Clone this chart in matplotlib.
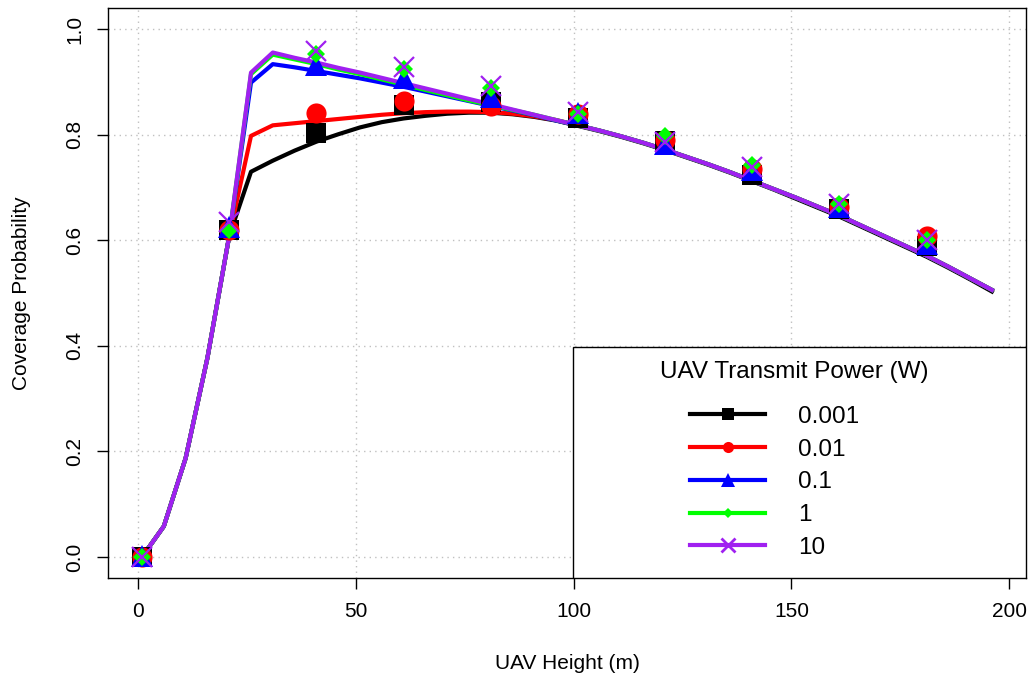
import matplotlib
matplotlib.use("Agg")
import matplotlib.pyplot as plt
from matplotlib.lines import Line2D
from matplotlib.patches import Rectangle

plt.rcParams['font.family'] = ['Liberation Sans', 'DejaVu Sans']

# analytical curves, sampled every 5 m from 1 m to 196 m
height = list(range(1, 197, 5))

rise = [0.0, 0.058, 0.187, 0.377, 0.608]
tail = [0.818, 0.808, 0.797, 0.785, 0.772, 0.758, 0.744, 0.729, 0.713, 0.697,
        0.681, 0.664, 0.647, 0.628, 0.609, 0.590, 0.571, 0.550, 0.528, 0.506]

cov_0001 = rise + [0.730, 0.751, 0.770, 0.787, 0.801, 0.814, 0.824, 0.831, 0.836,
                   0.840, 0.842, 0.842, 0.839, 0.834, 0.827] + \
    [0.817, 0.807, 0.796, 0.784, 0.771, 0.757, 0.743, 0.728, 0.712, 0.696,
     0.679, 0.662, 0.645, 0.626, 0.607, 0.588, 0.569, 0.548, 0.526, 0.503]
cov_001 = rise + [0.798, 0.818, 0.822, 0.826, 0.830, 0.834, 0.838, 0.841, 0.843,
                  0.844, 0.844, 0.843, 0.840, 0.835, 0.828] + tail
cov_01 = rise + [0.899, 0.934, 0.928, 0.921, 0.914, 0.907, 0.899, 0.891, 0.882,
                 0.873, 0.864, 0.855, 0.846, 0.837, 0.827] + tail
cov_1 = rise + [0.915, 0.952, 0.943, 0.934, 0.924, 0.915, 0.905, 0.895, 0.885,
                0.875, 0.865, 0.856, 0.847, 0.838, 0.828] + tail
cov_10 = rise + [0.918, 0.956, 0.946, 0.937, 0.927, 0.918, 0.908, 0.898, 0.888,
                 0.878, 0.868, 0.858, 0.848, 0.838, 0.828] + tail

# simulation points, every 20 m
sim_height = [1, 21, 41, 61, 81, 101, 121, 141, 161, 181]
sim_0001 = [0.0, 0.620, 0.804, 0.857, 0.862, 0.831, 0.788, 0.724, 0.660, 0.590]
sim_001 = [0.0, 0.620, 0.842, 0.864, 0.855, 0.840, 0.790, 0.735, 0.663, 0.609]
sim_01 = [0.002, 0.625, 0.932, 0.907, 0.872, 0.842, 0.783, 0.733, 0.663, 0.593]
sim_1 = [0.0, 0.620, 0.954, 0.925, 0.888, 0.840, 0.798, 0.742, 0.669, 0.600]
sim_10 = [0.0, 0.635, 0.959, 0.929, 0.892, 0.844, 0.787, 0.739, 0.668, 0.600]

labels = ['0.001', '0.01', '0.1', '1', '10']
colors = ['black', '#FF0000', '#0000FF', '#00FF00', '#A020F0']
markers = ['s', 'o', '^', 'D', 'x']
marker_sizes = [14, 14.5, 16, 9, 15]
legend_marker_sizes = [8, 8, 10, 5.5, 10]

curves = [cov_0001, cov_001, cov_01, cov_1, cov_10]
sims = [sim_0001, sim_001, sim_01, sim_1, sim_10]

fig = plt.figure(figsize=(10.29, 6.84), dpi=100)
ax = fig.add_axes([0.105, 0.155, 0.892, 0.833])

for curve, c in zip(curves, colors):
    ax.plot(height, curve, color=c, linewidth=3, zorder=2)

for sim, c, m, ms in zip(sims, colors, markers, marker_sizes):
    ax.plot(sim_height, sim, linestyle='none', marker=m, markersize=ms,
            color=c, markeredgewidth=1.6 if m == 'x' else 0, zorder=3)

ax.set_xlim(-6.8, 203.8)
ax.set_ylim(-0.04, 1.04)
ax.set_xticks([0, 50, 100, 150, 200])
ax.set_yticks([0.0, 0.2, 0.4, 0.6, 0.8, 1.0])
ax.set_yticklabels(['0.0', '0.2', '0.4', '0.6', '0.8', '1.0'], rotation=90, va='center')
ax.tick_params(axis='both', length=8, width=1, labelsize=15, direction='out')
ax.tick_params(axis='x', pad=9)
ax.tick_params(axis='y', pad=9)
for s in ax.spines.values():
    s.set_linewidth(1)

ax.grid(True, color='#c0c0c0', linestyle=(0, (1, 3)), linewidth=1)
ax.set_axisbelow(True)

ax.set_xlabel('UAV Height (m)', fontsize=15)
ax.set_ylabel('Coverage Probability', fontsize=15)
ax.xaxis.set_label_coords(0.5, -0.133)
ax.yaxis.set_label_coords(-0.084, 0.5)

# legend box in bottom-right corner
box_left, box_top = 0.5065, 0.405
ax.add_patch(Rectangle((box_left, 0), 1 - box_left, box_top, transform=ax.transAxes,
                       facecolor='white', edgecolor='black', linewidth=1, zorder=5))
ax.text(0.748, 0.361, 'UAV Transmit Power (W)', transform=ax.transAxes,
        ha='center', va='center', fontsize=17.5, zorder=6)

handles = [Line2D([], [], color=c, linewidth=3, marker=m, markersize=ms,
                  markeredgewidth=2 if m == 'x' else 0)
           for c, m, ms in zip(colors, markers, legend_marker_sizes)]
leg = ax.legend(handles, labels, loc='upper left',
                bbox_to_anchor=(0.634, 0.302),
                frameon=False, fontsize=17.5,
                handlelength=3.1, handletextpad=1.35, labelspacing=0.44,
                borderpad=0, borderaxespad=0)
leg.set_zorder(6)

plt.savefig('out.png', dpi=100)
plt.close()
